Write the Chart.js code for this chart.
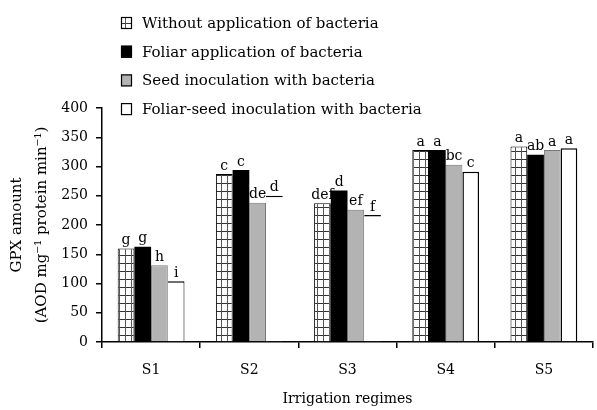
<!DOCTYPE html>
<html><head><meta charset="utf-8">
<script src="https://cdn.jsdelivr.net/npm/chart.js@4"></script>
<style>html,body{margin:0;padding:0;background:#fff}canvas{display:block}</style>
</head><body>
<canvas id="c" width="597" height="410"></canvas>
<script>
const categories = ['S1', 'S2', 'S3', 'S4', 'S5'];
const seriesNames = ['Without application of bacteria', 'Foliar application of bacteria', 'Seed inoculation with bacteria', 'Foliar-seed inoculation with bacteria'];
const withoutBacteria = [160, 287, 237, 328, 334];
const foliarBacteria = [163, 294, 259, 328, 320];
const seedBacteria = [131, 238, 226, 303, 328];
const foliarSeedBacteria = [104, 250, 217, 291, 331];
const lettersWithout = ['g', 'c', 'def', 'a', 'a'];
const lettersFoliar = ['g', 'c', 'd', 'a', 'ab'];
const lettersSeed = ['h', 'de', 'ef', 'bc', 'a'];
const lettersFoliarSeed = ['i', 'd', 'f', 'c', 'a'];
const yMin = 0, yMax = 400, yStep = 50;
const xTitle = 'Irrigation regimes';
const yTitle = ['GPX amount', '(AOD mg\u207B\u00B9 protein min\u207B\u00B9)'];

const FONT = '"DejaVu Serif", "Liberation Serif", serif';

function makePattern() {
  const p = document.createElement('canvas');
  p.width = 6; p.height = 8;
  const g = p.getContext('2d');
  g.fillStyle = '#fff'; g.fillRect(0, 0, 6, 8);
  g.fillStyle = '#333';
  g.fillRect(0, 7, 6, 1);
  g.fillStyle = '#555';
  g.fillRect(5, 0, 1, 8);
  return document.getElementById('c').getContext('2d').createPattern(p, 'repeat');
}
const hatch = makePattern();

const letters = [lettersWithout, lettersFoliar, lettersSeed, lettersFoliarSeed];

const labelPlugin = {
  id: 'letters',
  afterDatasetsDraw(chart) {
    const ctx = chart.ctx;
    ctx.save();
    ctx.font = '14px ' + FONT;
    ctx.fillStyle = '#000';
    ctx.textAlign = 'center';
    ctx.textBaseline = 'bottom';
    chart.data.datasets.forEach((ds, di) => {
      const meta = chart.getDatasetMeta(di);
      meta.data.forEach((bar, i) => {
        ctx.fillText(letters[di][i], bar.x, bar.y - 1);
      });
    });
    ctx.restore();
  }
};

const legendPlugin = {
  id: 'stackLegend',
  afterDraw(chart) {
    const ctx = chart.ctx;
    ctx.save();
    ctx.font = '15px ' + FONT;
    ctx.textBaseline = 'middle';
    ctx.textAlign = 'left';
    const x0 = 121, y0 = 23, dy = 28.7;
    chart.data.datasets.forEach((ds, i) => {
      const y = y0 + i * dy;
      ctx.fillStyle = ds.backgroundColor;
      ctx.fillRect(x0, y - 6, 11, 12);
      ctx.lineWidth = 1.2;
      ctx.strokeStyle = '#000';
      ctx.strokeRect(x0 + 0.5, y - 5.5, 10, 11);
      ctx.fillStyle = '#000';
      ctx.fillText(ds.label, x0 + 21, y + 1);
    });
    ctx.restore();
  }
};

new Chart(document.getElementById('c'), {
  type: 'bar',
  data: {
    labels: categories,
    datasets: [
      { label: seriesNames[0], data: withoutBacteria, backgroundColor: hatch, borderColor: '#000', borderWidth: 1 },
      { label: seriesNames[1], data: foliarBacteria, backgroundColor: '#000', borderColor: '#000', borderWidth: 0 },
      { label: seriesNames[2], data: seedBacteria, backgroundColor: '#b3b3b3', borderColor: '#777', borderWidth: 1 },
      { label: seriesNames[3], data: foliarSeedBacteria, backgroundColor: '#fff', borderColor: '#000',
        borderWidth: (c) => c.dataIndex >= 3 ? 1.5 : { top: 1.5, left: 0, right: c.dataIndex === 0 ? 1 : 0, bottom: 0 } }
    ]
  },
  options: {
    responsive: false,
    devicePixelRatio: 1,
    animation: false,
    layout: { padding: { top: 108, right: 4, left: 0, bottom: 0 } },
    plugins: { legend: { display: false }, tooltip: { enabled: false } },
    datasets: { bar: { categoryPercentage: 0.68, barPercentage: 1.0 } },
    scales: {
      x: {
        grid: { drawOnChartArea: false, drawTicks: true, tickLength: 6, color: '#000', lineWidth: 1.5, offset: true },
        border: { color: '#000', width: 1.5 },
        ticks: { color: '#000', font: { family: FONT, size: 14 }, padding: 14 },
        title: { display: true, text: xTitle, color: '#000', font: { family: FONT, size: 14 }, padding: { top: 4, bottom: 2 } },
        afterFit(s) { s.height = 68; }
      },
      y: {
        min: yMin, max: yMax,
        grid: { drawOnChartArea: false, drawTicks: true, tickLength: 6, color: '#000', lineWidth: 1.5 },
        border: { color: '#000', width: 1.5 },
        ticks: { stepSize: yStep, color: '#000', font: { family: FONT, size: 14 }, padding: 8 },
        title: { display: true, text: yTitle, color: '#000', font: { family: FONT, size: 15, lineHeight: 1.7 }, padding: { top: 4, bottom: 4 } },
        afterFit(s) { s.width = 102; }
      }
    }
  },
  plugins: [labelPlugin, legendPlugin]
});
</script>
</body></html>
